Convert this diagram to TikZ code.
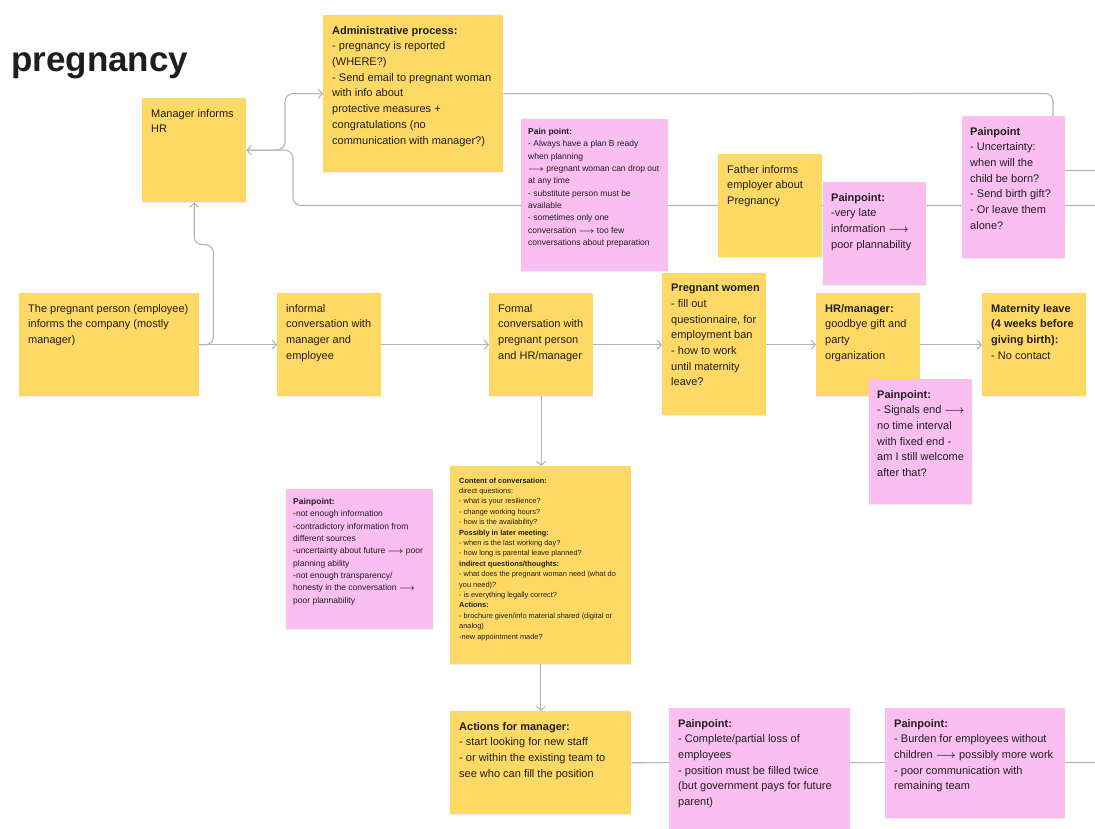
\documentclass[tikz,border=0pt]{standalone}
\usepackage{fontspec}
\setmainfont{Liberation Sans}
\newcommand\ra{{\boldmath$\longrightarrow$}}
\usetikzlibrary{arrows.meta,shadows}

\definecolor{stickyyellow}{HTML}{FFD966}
\definecolor{stickypink}{HTML}{FBBEF1}
\definecolor{ink}{HTML}{1E1E1E}
\definecolor{wirecol}{HTML}{B3B3B3}

\pgfdeclarelayer{background}
\pgfsetlayers{background,main}

\tikzset{
  sticky/.style={draw=none, inner sep=0pt, anchor=north west,
    drop shadow={opacity=0.07, shadow xshift=0pt, shadow yshift=-1.2pt, fill=black}},
  yel/.style={sticky, fill=stickyyellow},
  pnk/.style={sticky, fill=stickypink},
  body/.style={inner sep=0pt, anchor=north west, align=left, text=ink,
    font=\fontsize{11}{15.7}\selectfont},
  small/.style={body, font=\fontsize{8.5}{12.3}\selectfont},
  tiny/.style={body, font=\fontsize{7.4}{10.4}\selectfont},
  wire/.style={draw=wirecol, line width=1.1pt, rounded corners=8pt},
  arr/.style={wire, -{Straight Barb[length=4pt,width=9pt]}},
}

\begin{document}
\begin{tikzpicture}[x=1pt, y=-1pt]
\useasboundingbox (0,0) rectangle (1095,829);

% title
\node[anchor=base west, inner sep=0pt, text=ink,
      font=\fontsize{35}{40}\selectfont\bfseries] (title) at (11,72) {pregnancy};

% ---- sticky notes ----
\node[yel, minimum width=104, minimum height=104] (mgr) at (142,98) {};
\node[body] (mgr-t) at ([shift={(9,11)}]mgr.north west) {Manager informs\\HR};

\node[yel, minimum width=180, minimum height=157] (admin) at (323,15) {};
\node[body] (admin-t) at ([shift={(9,11)}]admin.north west)
  {\textbf{Administrative process:}\\- pregnancy is reported\\(WHERE?)\\- Send email to pregnant woman\\with info about\\protective measures +\\congratulations (no\\communication with manager?)};

\node[pnk, minimum width=147, minimum height=152] (planb) at (521,119) {};
\node[small] (planb-t) at ([shift={(7,9.3)}]planb.north west)
  {\textbf{Pain point:}\\- Always have a plan B ready\\when planning\\\ra{} pregnant woman can drop out\\at any time\\- substitute person must be\\available\\- sometimes only one\\conversation \ra{} too few\\conversations about preparation};

\node[yel, minimum width=104, minimum height=103] (father) at (718,154) {};
\node[body] (father-t) at ([shift={(9,11)}]father.north west)
  {Father informs\\employer about\\Pregnancy};

\node[pnk, minimum width=103, minimum height=103] (late) at (823,182) {};
\node[body] (late-t) at ([shift={(8,11)}]late.north west)
  {\textbf{Painpoint:}\\-very late\\information \ra\\poor plannability};

\node[pnk, minimum width=103, minimum height=142] (uncert) at (962,116) {};
\node[body] (uncert-t) at ([shift={(8,11)}]uncert.north west)
  {\textbf{Painpoint}\\- Uncertainty:\\when will the\\child be born?\\- Send birth gift?\\- Or leave them\\alone?};

\node[yel, minimum width=180, minimum height=103] (person) at (19,293) {};
\node[body] (person-t) at ([shift={(9,11)}]person.north west)
  {The pregnant person (employee)\\informs the company (mostly\\manager)};

\node[yel, minimum width=104, minimum height=103] (informal) at (277,293) {};
\node[body] (informal-t) at ([shift={(9,11)}]informal.north west)
  {informal\\conversation with\\manager and\\employee};

\node[yel, minimum width=104, minimum height=103] (formal) at (489,293) {};
\node[body] (formal-t) at ([shift={(9,11)}]formal.north west)
  {Formal\\conversation with\\pregnant person\\and HR/manager};

\node[yel, minimum width=104, minimum height=142] (women) at (662,273) {};
\node[body] (women-t) at ([shift={(9,11)}]women.north west)
  {\textbf{Pregnant women}\\- fill out\\questionnaire, for\\employment ban\\- how to work\\until maternity\\leave?};

\node[yel, minimum width=104, minimum height=103] (hr) at (816,293) {};
\node[body] (hr-t) at ([shift={(9,11)}]hr.north west)
  {\textbf{HR/manager:}\\goodbye gift and\\party\\organization};

\node[yel, minimum width=104, minimum height=103] (mat) at (982,293) {};
\node[body] (mat-t) at ([shift={(9,11)}]mat.north west)
  {\textbf{Maternity leave}\\\textbf{(4 weeks before}\\\textbf{giving birth):}\\- No contact};

\node[pnk, minimum width=103, minimum height=125] (signals) at (869,379) {};
\node[body] (signals-t) at ([shift={(8,11)}]signals.north west)
  {\textbf{Painpoint:}\\- Signals end \ra\\no time interval\\with fixed end -\\am I still welcome\\after that?};

\node[yel, minimum width=181, minimum height=198] (content) at (450,466) {};
\node[tiny] (content-t) at ([shift={(9,11.5)}]content.north west)
  {\textbf{Content of conversation:}\\direct questions:\\- what is your resilience?\\- change working hours?\\- how is the availability?\\\textbf{Possibly in later meeting:}\\- when is the last working day?\\- how long is parental leave planned?\\\textbf{indirect questions/thoughts:}\\- what does the pregnant woman need (what do\\you need)?\\- is everything legally correct?\\\textbf{Actions:}\\- brochure given/info material shared (digital or\\analog)\\-new appointment made?};

\node[pnk, minimum width=147, minimum height=140] (painleft) at (286,489) {};
\node[small] (painleft-t) at ([shift={(7,9.3)}]painleft.north west)
  {\textbf{Painpoint:}\\-not enough information\\-contradictory information from\\different sources\\-uncertainty about future \ra{} poor\\planning ability\\-not enough transparency/\\honesty in the conversation \ra\\poor plannability};

\node[yel, minimum width=181, minimum height=103] (actions) at (450,711) {};
\node[body] (actions-t) at ([shift={(9,11)}]actions.north west)
  {\textbf{Actions for manager:}\\- start looking for new staff\\- or within the existing team to\\see who can fill the position};

\node[pnk, minimum width=181, minimum height=125] (loss) at (669,708) {};
\node[body] (loss-t) at ([shift={(9,11)}]loss.north west)
  {\textbf{Painpoint:}\\- Complete/partial loss of\\employees\\- position must be filled twice\\(but government pays for future\\parent)};

\node[pnk, minimum width=180, minimum height=110] (burden) at (885,708) {};
\node[body] (burden-t) at ([shift={(9,11)}]burden.north west)
  {\textbf{Painpoint:}\\- Burden for employees without\\children \ra{} possibly more work\\- poor communication with\\remaining team};

% loose ends of connectors leaving the canvas
\coordinate (offT) at (1095,170.5);
\coordinate (offM) at (1095,205.5);
\coordinate (offB) at (1095,762.5);

% ---- connectors, under the notes ----
\begin{pgfonlayer}{background}
  \draw[arr] (person.east) -- (informal.west);
  \draw[arr] (person.east) -- ++(14,0) -- ++(0,-100) -| (mgr.south);
  \draw[arr] (mgr.east) -- (285,150) |- (admin.west);
  \draw[arr] (offM) -- (293,205.5) |- (mgr.east);
  \draw[wire] (admin.east) -- (1053,93.5) -- (1053,170.5) -- (offT);
  \draw[arr] (informal.east) -- (formal.west);
  \draw[arr] (formal.east) -- (women.west |- formal.east);
  \draw[arr] (women.east |- hr.west) -- (hr.west);
  \draw[arr] (hr.east) -- (mat.west);
  \draw[arr] (formal.south) -- (formal.south |- content.north);
  \draw[arr] (content.south) -- (actions.north);
  \draw[wire] (actions.east) -- (offB);
\end{pgfonlayer}
\end{tikzpicture}
\end{document}
